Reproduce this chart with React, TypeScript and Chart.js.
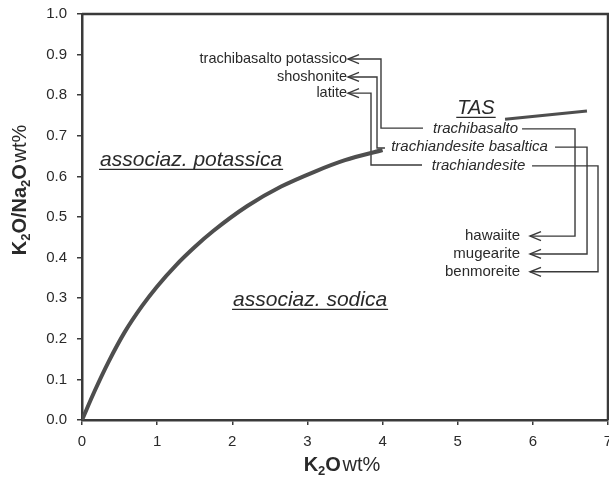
import React, { useEffect, useRef } from "react";
import { Chart, registerables } from "chart.js";

Chart.register(...registerables);

// ---------- data ----------
const X_TICKS = [0, 1, 2, 3, 4, 5, 6, 7];
const Y_TICKS = [0, 0.1, 0.2, 0.3, 0.4, 0.5, 0.6, 0.7, 0.8, 0.9, 1.0];

// boundary curve potassic / sodic association
const CURVE_K2O = [0, 0.17, 0.35, 0.57, 0.8, 1.0, 1.25, 1.5, 1.75, 2.2, 2.65, 3.1, 3.5, 4.0];
const CURVE_RATIO = [0, 0.072, 0.142, 0.217, 0.281, 0.329, 0.381, 0.426, 0.466, 0.527, 0.575, 0.612, 0.64, 0.665];

// small TAS mark next to the "TAS" heading
const TAS_MARK_X = [5.63, 6.72];
const TAS_MARK_Y = [0.741, 0.761];

// connector lines between names (data coordinates)
const CONNECTOR_X = [
  [3.54, 3.979, 3.979, 4.538],
  [3.54, 3.926, 3.926, 4.032],
  [3.54, 3.846, 3.846, 4.525],
  [5.856, 6.561, 6.561, 5.962],
  [6.295, 6.721, 6.721, 5.962],
  [5.989, 6.867, 6.867, 5.962],
];
const CONNECTOR_Y = [
  [0.889, 0.889, 0.719, 0.719],
  [0.845, 0.845, 0.67, 0.67],
  [0.805, 0.805, 0.628, 0.628],
  [0.717, 0.717, 0.453, 0.453],
  [0.672, 0.672, 0.409, 0.409],
  [0.626, 0.626, 0.365, 0.365],
];
const ARROW_END = ["first", "first", "first", "last", "last", "last"];

// text labels
const POTASSIC_NAMES = ["trachibasalto potassico", "shoshonite", "latite"];
const POTASSIC_X = [3.527, 3.527, 3.527];
const POTASSIC_Y = [0.889, 0.845, 0.805];

const TAS_NAMES = ["trachibasalto", "trachiandesite basaltica", "trachiandesite"];
const TAS_X = [5.237, 5.157, 5.277];
const TAS_Y = [0.717, 0.672, 0.626];

const SODIC_NAMES = ["hawaiite", "mugearite", "benmoreite"];
const SODIC_X = [5.829, 5.829, 5.829];
const SODIC_Y = [0.453, 0.409, 0.365];

const FIELD_NAMES = ["associaz. potassica", "associaz. sodica"];
const FIELD_X = [0.24, 2.01];
const FIELD_Y = [0.626, 0.281];

const TAS_HEADING = "TAS";
const TAS_HEADING_X = 5.243;
const TAS_HEADING_Y = 0.754;

// ---------- styles ----------
const FONT = "'Liberation Sans', Arial, Helvetica, sans-serif";
const INK = "#2a2a2a";
const LINE = "#3a3a3a";

type Seg = { t: string; font: string; dy?: number };

function richWidth(ctx: CanvasRenderingContext2D, segs: Seg[]) {
  let w = 0;
  for (const s of segs) {
    ctx.font = s.font;
    w += ctx.measureText(s.t).width;
  }
  return w;
}
function drawRich(ctx: CanvasRenderingContext2D, segs: Seg[], x: number, y: number) {
  let cx = x;
  for (const s of segs) {
    ctx.font = s.font;
    ctx.fillText(s.t, cx, y + (s.dy || 0));
    cx += ctx.measureText(s.t).width;
  }
}

const B20 = `bold 20px ${FONT}`;
const B13 = `bold 13px ${FONT}`;
const N20 = `20px ${FONT}`;

const X_TITLE: Seg[] = [
  { t: "K", font: B20 },
  { t: "2", font: B13, dy: 4 },
  { t: "O", font: B20 },
  { t: " ", font: `6px ${FONT}` },
  { t: "wt%", font: N20 },
];
const Y_TITLE: Seg[] = [
  { t: "K", font: B20 },
  { t: "2", font: B13, dy: 4 },
  { t: "O/Na", font: B20 },
  { t: "2", font: B13, dy: 4 },
  { t: "O", font: B20 },
  { t: " ", font: `6px ${FONT}` },
  { t: "wt%", font: N20 },
];

const annotationPlugin = {
  id: "annotations",
  afterDraw(chart: any) {
    const ctx: CanvasRenderingContext2D = chart.ctx;
    const xs = chart.scales.x;
    const ys = chart.scales.y;
    const area = chart.chartArea;
    ctx.save();

    // frame top & right
    ctx.strokeStyle = LINE;
    ctx.lineWidth = 2.5;
    ctx.beginPath();
    ctx.moveTo(area.left, area.top);
    ctx.lineTo(area.right, area.top);
    ctx.lineTo(area.right, area.bottom);
    ctx.stroke();

    // arrowheads
    ctx.lineWidth = 1.4;
    ctx.strokeStyle = LINE;
    CONNECTOR_X.forEach((_, i) => {
      const meta = chart.getDatasetMeta(2 + i);
      const pts = meta.data;
      const p = ARROW_END[i] === "first" ? pts[0] : pts[pts.length - 1];
      ctx.beginPath();
      ctx.moveTo(p.x + 11, p.y - 4.5);
      ctx.lineTo(p.x, p.y);
      ctx.lineTo(p.x + 11, p.y + 4.5);
      ctx.stroke();
    });

    ctx.fillStyle = INK;
    ctx.textBaseline = "middle";

    // potassic names (right aligned)
    ctx.font = `14.5px ${FONT}`;
    ctx.textAlign = "right";
    POTASSIC_NAMES.forEach((n, i) => {
      ctx.fillText(n, xs.getPixelForValue(POTASSIC_X[i]), ys.getPixelForValue(POTASSIC_Y[i]));
    });
    // sodic names
    ctx.font = `15px ${FONT}`;
    SODIC_NAMES.forEach((n, i) => {
      ctx.fillText(n, xs.getPixelForValue(SODIC_X[i]), ys.getPixelForValue(SODIC_Y[i]));
    });
    // TAS names
    ctx.font = `italic 15px ${FONT}`;
    ctx.textAlign = "center";
    TAS_NAMES.forEach((n, i) => {
      ctx.fillText(n, xs.getPixelForValue(TAS_X[i]), ys.getPixelForValue(TAS_Y[i]));
    });

    // underlined italic headings
    ctx.textBaseline = "alphabetic";
    ctx.textAlign = "left";
    const underlined = (text: string, x: number, y: number, font: string) => {
      ctx.font = font;
      const w = ctx.measureText(text).width;
      ctx.fillText(text, x, y);
      ctx.beginPath();
      ctx.lineWidth = 1.3;
      ctx.strokeStyle = INK;
      ctx.moveTo(x - 1, y + 3.5);
      ctx.lineTo(x + w + 1, y + 3.5);
      ctx.stroke();
    };
    FIELD_NAMES.forEach((n, i) => {
      underlined(n, xs.getPixelForValue(FIELD_X[i]), ys.getPixelForValue(FIELD_Y[i]), `italic 21px ${FONT}`);
    });
    {
      ctx.font = `italic 20px ${FONT}`;
      const w = ctx.measureText(TAS_HEADING).width;
      underlined(TAS_HEADING, xs.getPixelForValue(TAS_HEADING_X) - w / 2, ys.getPixelForValue(TAS_HEADING_Y), `italic 20px ${FONT}`);
    }

    // axis titles
    ctx.fillStyle = INK;
    ctx.textBaseline = "alphabetic";
    ctx.textAlign = "left";
    {
      const w = richWidth(ctx, X_TITLE);
      const cx = (area.left + area.right) / 2 - 3;
      drawRich(ctx, X_TITLE, cx - w / 2, 471);
    }
    {
      const w = richWidth(ctx, Y_TITLE);
      ctx.translate(26, 190);
      ctx.rotate(-Math.PI / 2);
      drawRich(ctx, Y_TITLE, -w / 2, 0);
    }
    ctx.restore();
  },
};

export default function App() {
  const ref = useRef<HTMLCanvasElement | null>(null);

  useEffect(() => {
    if (!ref.current) return;
    const connectorSets = CONNECTOR_X.map((xsArr, i) => ({
      label: "connector " + (i + 1),
      data: xsArr.map((x, j) => ({ x, y: CONNECTOR_Y[i][j] })),
      showLine: true,
      borderColor: LINE,
      borderWidth: 1.4,
      pointRadius: 0,
      tension: 0,
    }));
    const chart = new Chart(ref.current, {
      type: "scatter",
      data: {
        datasets: [
          {
            label: "limite",
            data: CURVE_K2O.map((x, i) => ({ x, y: CURVE_RATIO[i] })),
            showLine: true,
            borderColor: "#4e4e4e",
            borderWidth: 4,
            pointRadius: 0,
            cubicInterpolationMode: "monotone",
          },
          {
            label: "TAS",
            data: TAS_MARK_X.map((x, i) => ({ x, y: TAS_MARK_Y[i] })),
            showLine: true,
            borderColor: "#4e4e4e",
            borderWidth: 3,
            pointRadius: 0,
          },
          ...connectorSets,
        ],
      } as any,
      options: {
        animation: false,
        responsive: false,
        maintainAspectRatio: false,
        layout: { padding: { top: 14, right: 1, left: 0, bottom: 0 } },
        plugins: {
          legend: { display: false },
          tooltip: { enabled: false },
          title: { display: false },
        },
        scales: {
          x: {
            type: "linear",
            min: 0,
            max: 7,
            afterBuildTicks: (s: any) => {
              s.ticks = X_TICKS.map((v) => ({ value: v }));
            },
            afterFit: (s: any) => {
              s.height = 59;
              s.paddingLeft = 0;
              s.paddingRight = 0;
            },
            ticks: {
              color: INK,
              font: { family: FONT, size: 15 },
              padding: 8,
              maxRotation: 0,
              callback: (v: any) => String(v),
            },
            grid: {
              display: true,
              drawOnChartArea: false,
              drawTicks: true,
              tickLength: 5,
              color: LINE,
              lineWidth: 1.5,
            },
            border: { display: true, color: LINE, width: 2.5 },
          },
          y: {
            type: "linear",
            min: 0,
            max: 1,
            afterBuildTicks: (s: any) => {
              s.ticks = Y_TICKS.map((v) => ({ value: v }));
            },
            afterFit: (s: any) => {
              s.width = 82;
              s.paddingTop = 0;
              s.paddingBottom = 0;
            },
            ticks: {
              color: INK,
              font: { family: FONT, size: 15 },
              padding: 10,
              callback: (v: any) => Number(v).toFixed(1),
            },
            grid: {
              display: true,
              drawOnChartArea: false,
              drawTicks: true,
              tickLength: 5,
              color: LINE,
              lineWidth: 1.5,
            },
            border: { display: true, color: LINE, width: 2.5 },
          },
        },
      } as any,
      plugins: [annotationPlugin],
    });
    return () => chart.destroy();
  }, []);

  return (
    <div style={{ position: "fixed", left: 0, top: 0, width: 609, height: 479, background: "#fff" }}>
      <canvas ref={ref} width={609} height={479} style={{ display: "block", width: 609, height: 479 }} />
    </div>
  );
}
